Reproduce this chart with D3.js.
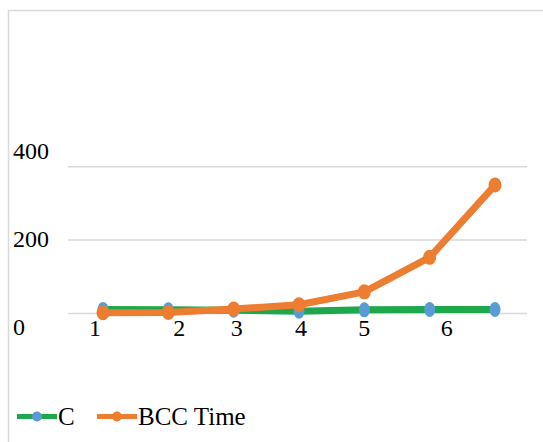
<!DOCTYPE html>
<html><head><meta charset="utf-8">
<script src="https://cdn.jsdelivr.net/npm/d3@7"></script>
</head><body style="margin:0">
<svg id="chart" width="543" height="442"></svg>
<script>
// ---- data ----
const categories = [1, 2, 3, 4, 5, 6, 7];
const xTickLabels = ["1", "2", "3", "4", "5", "6", ""];
const seriesC = [11, 10, 9, 6, 10, 11, 11];
const seriesBCC = [2, 3, 12, 24, 59, 153, 350];
const yTicks = [0, 200, 400];
const seriesNames = ["C", "BCC Time"];

// ---- layout (not data) ----
const xLabelShift = [-8, 11, 3, 2, 0, 17, 0];
const yLabelShift = {0: 21, 200: 7, 400: -8};
const serifFamily = () => "'Liberation Serif', monospace";

const svg = d3.select("#chart");

// frame border
svg.append("path").attr("d", "M8.5,442 V10.5 H543")
  .attr("fill", "none").attr("stroke", "#d9d9d9").attr("stroke-width", 1.5);

const x = d3.scalePoint().domain(categories).range([103, 495]);
const y = d3.scaleLinear().domain([0, 400]).range([313.5, 166.7]);

// gridlines
svg.append("g").selectAll("line").data(yTicks).join("line")
  .attr("x1", 68).attr("x2", 527)
  .attr("y1", d => y(d)).attr("y2", d => y(d))
  .attr("stroke", "#d9d9d9").attr("stroke-width", 1.5);

// y labels
svg.append("g").selectAll("text").data(yTicks).join("text")
  .attr("x", 13).attr("y", d => y(d) + yLabelShift[d])
  .attr("font-size", 24).style("font-family", serifFamily)
  .text(d => String(d));

// x labels
svg.append("g").selectAll("text").data(categories).join("text")
  .attr("x", (d, i) => x(d) + xLabelShift[i]).attr("y", 336)
  .attr("text-anchor", "middle")
  .attr("font-size", 24).style("font-family", serifFamily)
  .text((d, i) => xTickLabels[i]);

const line = d3.line().x((d, i) => x(categories[i])).y(d => y(d));

// series C
svg.append("path").datum(seriesC).attr("d", line)
  .attr("fill", "none").attr("stroke", "#1fa84b").attr("stroke-width", 7);
svg.append("g").selectAll("ellipse").data(seriesC).join("ellipse")
  .attr("cx", (d, i) => x(categories[i])).attr("cy", d => y(d))
  .attr("rx", 5.5).attr("ry", 7.5).attr("fill", "#5b9bd5");

// series BCC
svg.append("path").datum(seriesBCC).attr("d", line)
  .attr("fill", "none").attr("stroke", "#ed7d31").attr("stroke-width", 7)
  .attr("stroke-linejoin", "round");
svg.append("g").selectAll("ellipse").data(seriesBCC).join("ellipse")
  .attr("cx", (d, i) => x(categories[i])).attr("cy", d => y(d))
  .attr("rx", 6.5).attr("ry", 7.5).attr("fill", "#ed7d31");

// legend
const legend = [
  {name: seriesNames[0], line: "#1fa84b", dot: "#5b9bd5", x0: 17},
  {name: seriesNames[1], line: "#ed7d31", dot: "#ed7d31", x0: 97}
];
const lg = svg.append("g").selectAll("g").data(legend).join("g");
lg.append("line").attr("x1", d => d.x0).attr("x2", d => d.x0 + 40)
  .attr("y1", 416.5).attr("y2", 416.5)
  .attr("stroke", d => d.line).attr("stroke-width", 5);
lg.append("circle").attr("cx", d => d.x0 + 20).attr("cy", 416.5).attr("r", 5)
  .attr("fill", d => d.dot);
lg.append("text").attr("x", d => d.x0 + 41).attr("y", 425)
  .attr("font-size", 25).style("font-family", serifFamily)
  .text(d => d.name);
</script>
</body></html>
